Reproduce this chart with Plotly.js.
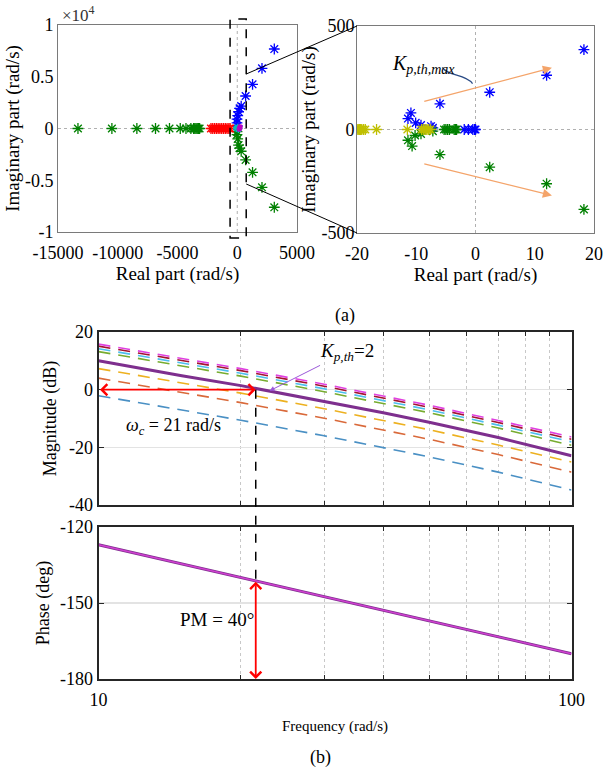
<!DOCTYPE html>
<html>
<head>
<meta charset="utf-8">
<script src="https://cdn.plot.ly/plotly-3.0.1.min.js"></script>
<style>html,body{margin:0;padding:0;background:#fff;}#chart{width:607px;height:775px;}</style>
</head>
<body>
<div id="chart"></div>
<script>
// ---------- DATA ----------
// (a) left: full root locus (rad/s)
const lGreenX = [-13330,-10490,-8400,-6840,-5670,-4770,-4290,-3880,-3650,-3550,-3450,-3350,-3250,-3150, 3100,2070,1280,700,330,200,110,40,-20,-20];
const lGreenY = [0,0,0,0,0,0,0,0,0,0,0,0,0,0, -7610,-5680,-4230,-3040,-2200,-1900,-1600,-1000,-600,-300];
const lBlueX  = [3100,2070,1280,700,330,200,110,40,-20,-20,10];
const lBlueY  = [7680,5810,4270,3140,2170,1950,1620,1250,900,550,250];
const lRedX   = [-2200,-2050,-1900,-1750,-1600,-1450,-1300,-1150,-1000,-850,-700,-600];
const lRedY   = [0,0,0,0,0,0,0,0,0,0,0,0];
const lCyanX  = [-60,20,90,150];
const lCyanY  = [0,120,-80,40];
const lMagX   = [230,170];
const lMagY   = [160,-60];
const lXTicks = [-15000,-10000,-5000,0,5000];
const lXTickText = ['-15000','-10000','-5000','0','5000'];
const lYTicks = [-10000,-5000,0,5000,10000];
const lYTickText = ['-1','-0.5','0','0.5','1'];

// (a) right: zoomed root locus
const rBlueX = [18.3,12.0,2.4,-6.0,-10.9,-11.4,-10.1,-9.2,-7.5,-7.2,-1.9,-1.2,-0.45,-0.15,0.0,-20.3];
const rBlueY = [386,262,180,124,80,53,32,21,16,8,0,0,0,0,0,0];
const rGreenX = [18.3,12.0,2.4,-6.0,-10.7,-11.4,-10.2,-9.2,-7.2,-5.3,-5.0,-4.7,-4.4,-3.6,-3.4,-3.2];
const rGreenY = [-386,-262,-182,-121,-80,-52,-29,-21,-8,0,0,0,0,0,0,0];
const rYellowX = [-20.2,-20.0,-19.8,-19.6,-19.4,-19.2,-18.9,-18.6,-16.7,-11.5,-9.1,-8.8,-8.5,-8.2,-7.9,-7.6];
const rYellowY = [0,0,0,0,0,0,0,0,0,0,0,0,0,0,0,0];
const rXTicks = [-20,-10,0,10,20];
const rXTickText = ['-20','-10','0','10','20'];
const rYTicks = [-500,0,500];
const rYTickText = ['-500','0','500'];
const rArrowUp = {x0:-8.9, y0:134, x1:12.9, y1:298};
const rArrowDn = {x0:-8.9, y0:-164, x1:12.9, y1:-319};

// (b) Bode
const freq = [10,15,20,30,40,50,70,100];
const magMagenta = [15.8,10.7,7.3,1.9,-2.1,-5.4,-10.7,-16.4];
const magDarkRed = [15.1,10.0,6.6,1.2,-2.8,-6.1,-11.4,-17.2];
const magCyan    = [14.2,9.1,5.7,0.3,-3.7,-7.0,-12.3,-18.1];
const magGreen   = [13.2,8.1,4.7,-0.7,-4.7,-8.0,-13.3,-19.3];
const magPurple  = [10.0,4.8,1.4,-4.0,-8.0,-11.3,-16.6,-22.9];
const magYellow  = [7.3,2.2,-1.2,-6.6,-10.6,-13.9,-19.2,-25.1];
const magOrange  = [4.0,-1.1,-4.5,-9.9,-13.9,-17.2,-22.5,-28.6];
const magBlue    = [-2.1,-7.2,-10.6,-16.0,-20.0,-23.3,-28.6,-34.8];
const phaseFreq = [10,15,20,30,40,50,60,70,80,90,100];
const phaseDeg  = [-127,-134.6,-139.9,-147.5,-152.9,-157,-160.5,-163.3,-165.8,-168,-170];
const freqMajor = [10,100];
const freqMajorText = ['10','100'];
const freqMinor = [20,30,40,50,60,70,80,90];
const magTicks = [-40,-20,0,20];
const magTickText = ['-40','-20','0','20'];
const phTicks = [-180,-150,-120];
const phTickText = ['-180','-150','-120'];
const wc = 21.5;          // crossover (rad/s)
const phaseAtWc = -141;   // phase at crossover (deg)

// ---------- LAYOUT ----------
const W = 607, H = 775;
const FONT = 'Liberation Serif';
const dLX = [58/W, 297/W],  dLY = [1-232/H, 1-25/H];
const dRX = [357/W, 594/W], dRY = [1-233/H, 1-26/H];
const dBX = [98.5/W, 571.5/W];
const dMY = [1-505/H, 1-332/H];
const dPY = [1-679/H, 1-527/H];
const rngLX = [-15000,5000], rngLY = [-10000,10000];
const rngRX = [-20,20], rngRY = [-500,500];
const rngF = [1,2], rngM = [-40,20], rngP = [-180,-120];

function toPaper(v, dom, rng, isLog){
  const val = isLog ? Math.log10(v) : v;
  return dom[0] + (val - rng[0])/(rng[1]-rng[0])*(dom[1]-dom[0]);
}

const star = (x,y,color,xa,ya,size) => ({
  type:'scatter', mode:'markers', x:x, y:y, xaxis:xa, yaxis:ya,
  marker:{symbol:'asterisk-open', size:size, color:color, line:{color:color, width:1.3}},
  showlegend:false, hoverinfo:'skip'
});
const magLine = (y,color,dash,width) => ({
  type:'scatter', mode:'lines', x:freq, y:y, xaxis:'x3', yaxis:'y3',
  line:{color:color, dash:dash, width:width}, showlegend:false, hoverinfo:'skip'
});
const DASH = '12px,8px';

const data = [
  star(lGreenX,lGreenY,'#008000','x','y',9),
  star(lBlueX,lBlueY,'#0000ff','x','y',9),
  star(lRedX,lRedY,'#ff0000','x','y',9),
  star(lCyanX,lCyanY,'#00bfbf','x','y',6),
  star(lMagX,lMagY,'#bf00bf','x','y',5),
  star(rBlueX,rBlueY,'#0000ff','x2','y2',9),
  star(rGreenX,rGreenY,'#008000','x2','y2',9),
  star(rYellowX,rYellowY,'#bfbf00','x2','y2',9),
  magLine(magBlue,'#4a90c4',DASH,1.6),
  magLine(magOrange,'#d9693a',DASH,1.6),
  magLine(magYellow,'#edb120',DASH,1.6),
  magLine(magGreen,'#77ac30',DASH,1.6),
  magLine(magCyan,'#4dbeee',DASH,1.6),
  magLine(magDarkRed,'#a2142f',DASH,1.6),
  magLine(magMagenta,'#e040e0',DASH,1.6),
  magLine(magPurple,'#7e2f8e','solid',3),
  {type:'scatter',mode:'lines',x:phaseFreq,y:phaseDeg,xaxis:'x4',yaxis:'y4',
   line:{color:'#7e2f8e',width:3},showlegend:false,hoverinfo:'skip'},
  {type:'scatter',mode:'lines',x:phaseFreq,y:phaseDeg,xaxis:'x4',yaxis:'y4',
   line:{color:'#d040d0',width:1.6},showlegend:false,hoverinfo:'skip'}
];

const tf = {family:FONT, size:18, color:'#000'};
const topAxisBase = {showline:true, mirror:true, linecolor:'#7a7a7a', linewidth:1,
  showgrid:false, zeroline:false, ticks:'', tickfont:tf};
const bodeX = {type:'log', range:rngF, domain:dBX, tickvals:freqMajor, ticktext:freqMajorText,
  showline:true, mirror:'ticks', linecolor:'#262626', linewidth:2, ticks:'inside', ticklen:5,
  tickcolor:'#262626', showgrid:false, zeroline:false, tickfont:tf,
  minor:{tickvals:freqMinor, ticks:'inside', ticklen:4, tickcolor:'#262626', showgrid:true,
    gridcolor:'#c8c8c8', griddash:'dot', gridwidth:1}};
const bodeY = {showline:true, mirror:'ticks', linecolor:'#262626', linewidth:2, ticks:'inside',
  ticklen:5, tickcolor:'#262626', showgrid:true, gridcolor:'#e3e3e3', gridwidth:1.5,
  zeroline:false, tickfont:tf};

const layout = {
  width:W, height:H, margin:{l:0,r:0,t:0,b:0}, paper_bgcolor:'#fff', plot_bgcolor:'#fff',
  font:{family:FONT, color:'#000'}, showlegend:false,
  xaxis:Object.assign({}, topAxisBase, {domain:dLX, range:rngLX, anchor:'y', tickvals:lXTicks,
    ticktext:lXTickText, ticklabelstandoff:4, title:{text:'Real part (rad/s)', font:{family:FONT,size:19}, standoff:2}}),
  yaxis:Object.assign({}, topAxisBase, {domain:dLY, range:rngLY, anchor:'x', tickvals:lYTicks,
    ticktext:lYTickText, title:{text:'Imaginary part (rad/s)', font:{family:FONT,size:19}, standoff:0}}),
  xaxis2:Object.assign({}, topAxisBase, {domain:dRX, range:rngRX, anchor:'y2', tickvals:rXTicks,
    ticktext:rXTickText, ticklabelstandoff:4, title:{text:'Real part (rad/s)', font:{family:FONT,size:19}, standoff:2}}),
  yaxis2:Object.assign({}, topAxisBase, {domain:dRY, range:rngRY, anchor:'x2', tickvals:rYTicks,
    ticktext:rYTickText, ticklabelstandoff:-2, title:{text:'Imaginary part (rad/s)', font:{family:FONT,size:19}, standoff:0}}),
  xaxis3:Object.assign({}, bodeX, {anchor:'y3', showticklabels:false}),
  yaxis3:Object.assign({}, bodeY, {domain:dMY, range:rngM, anchor:'x3', tickvals:magTicks, ticktext:magTickText,
    title:{text:'Magnitude (dB)', font:{family:FONT,size:18}, standoff:8}}),
  xaxis4:Object.assign({}, bodeX, {anchor:'y4', ticklabelstandoff:3,
    title:{text:'Frequency (rad/s)', font:{family:FONT,size:15}, standoff:12}}),
  yaxis4:Object.assign({}, bodeY, {domain:dPY, range:rngP, anchor:'x4', tickvals:phTicks, ticktext:phTickText,
    title:{text:'Phase (deg)', font:{family:FONT,size:18}, standoff:6}}),
  shapes:[], annotations:[]
};

// dotted zero lines in root-locus plots
[['x','y'],['x2','y2']].forEach(([xa,ya])=>{
  layout.shapes.push({type:'line', xref:xa+' domain', yref:ya, x0:0, x1:1, y0:0, y1:0,
    line:{color:'#b0b0b0', width:1, dash:'dot'}, layer:'below'});
  layout.shapes.push({type:'line', xref:xa, yref:ya+' domain', x0:0, x1:0, y0:0, y1:1,
    line:{color:'#b0b0b0', width:1, dash:'dot'}, layer:'below'});
});
// zoom rectangle & connector lines
const zx0 = toPaper(-600, dLX, rngLX), zx1 = toPaper(750, dLX, rngLX);
layout.shapes.push({type:'rect', xref:'paper', yref:'paper', x0:zx0, x1:zx1, y0:1-238/H, y1:1-19/H,
  line:{color:'#000', width:1.5, dash:'dash'}});
layout.shapes.push({type:'line', xref:'paper', yref:'paper', x0:zx1, y0:toPaper(5265,dLY,rngLY),
  x1:dRX[0], y1:dRY[1], line:{color:'#000', width:1}});
layout.shapes.push({type:'line', xref:'paper', yref:'paper', x0:zx1, y0:toPaper(-5360,dLY,rngLY),
  x1:dRX[0], y1:dRY[0], line:{color:'#000', width:1}});
// curved Kp,th,max pointer
layout.shapes.push({type:'path', xref:'x2', yref:'y2',
  path:'M -5.6,300 C -4.6,255 -1.8,270 -0.5,222', line:{color:'#2b4c86', width:1.3}});
// vertical dashed black line at crossover
const xwc = toPaper(wc, dBX, rngF, true);
layout.shapes.push({type:'line', xref:'paper', yref:'paper', x0:xwc, x1:xwc,
  y0:toPaper(0, dMY, rngM), y1:toPaper(phaseAtWc, dPY, rngP), line:{color:'#000', width:1.5, dash:'dash'}});

const A = layout.annotations;
A.push({xref:'paper', yref:'paper', x:60/W, y:1-14/H, xanchor:'left', yanchor:'middle', showarrow:false,
  text:'×10<sup>4</sup>', font:{family:FONT, size:17, color:'#333'}});
A.push({xref:'paper', yref:'paper', x:345/W, y:1-315/H, xanchor:'center', yanchor:'middle', showarrow:false, text:'(a)', font:{family:FONT,size:18}});
A.push({xref:'paper', yref:'paper', x:320/W, y:1-757/H, xanchor:'center', yanchor:'middle', showarrow:false, text:'(b)', font:{family:FONT,size:18}});
// orange arrows
[rArrowUp, rArrowDn].forEach(a=>A.push({xref:'x2', yref:'y2', axref:'x2', ayref:'y2', x:a.x1, y:a.y1,
  ax:a.x0, ay:a.y0, text:'', showarrow:true, arrowhead:2, arrowsize:1.4, arrowwidth:1.3, arrowcolor:'#f4a46a'}));
A.push({xref:'x2', yref:'y2', x:-8.8, y:312, showarrow:false,
  text:'<i>K</i><sub><i>p,th,max</i></sub>', font:{family:FONT, size:20}});
A.push({xref:'x2', yref:'y2', axref:'x2', ayref:'y2', x:-0.2, y:212, ax:-0.6, ay:226, text:'',
  showarrow:true, arrowhead:4, arrowsize:1.3, arrowwidth:1.3, arrowcolor:'#2b4c86'});
// Bode annotations
A.push({xref:'x3', yref:'y3', axref:'x3', ayref:'y3', x:Math.log10(wc), y:0, ax:1.0, ay:0, text:'',
  showarrow:true, arrowhead:4, startarrowhead:4, arrowside:'end+start', arrowsize:1.2, arrowwidth:1.8, arrowcolor:'#ff0000'});
A.push({xref:'x3', yref:'y3', axref:'x3', ayref:'y3', x:Math.log10(23), y:-0.4, ax:Math.log10(33.5), ay:13.1,
  text:'<i>K</i><sub><i>p,th</i></sub>=2', showarrow:true, arrowhead:2, arrowsize:1, arrowwidth:1,
  arrowcolor:'#9b59d9', font:{family:FONT, size:19}});
A.push({xref:'x3', yref:'y3', x:1.1596, y:-12.9, showarrow:false,
  text:'<i>ω</i><sub><i>c</i></sub> = 21 rad/s', font:{family:FONT, size:18}});
A.push({xref:'x4', yref:'y4', axref:'x4', ayref:'y4', x:Math.log10(wc), y:-180, ax:Math.log10(wc), ay:phaseAtWc,
  text:'', showarrow:true, arrowhead:4, startarrowhead:4, arrowside:'end+start', arrowsize:1.2, arrowwidth:1.8, arrowcolor:'#ff0000'});
A.push({xref:'x4', yref:'y4', x:1.2495, y:-156.7, showarrow:false, text:'PM = 40°', font:{family:FONT, size:19}});

Plotly.newPlot('chart', data, layout, {staticPlot:true, displayModeBar:false});
</script>
</body>
</html>
